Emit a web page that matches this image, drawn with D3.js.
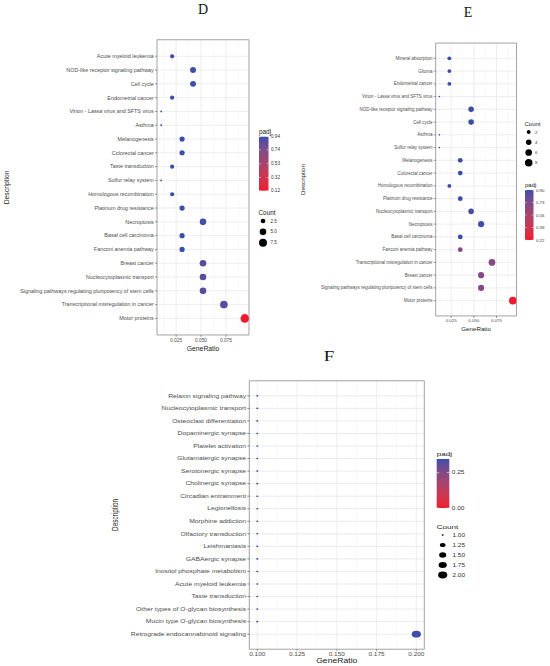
<!DOCTYPE html>
<html>
<head>
<meta charset="utf-8">
<script src="https://cdn.jsdelivr.net/npm/d3@7"></script>
<style>
  body { margin: 0; background: #fff; }
  svg { display: block; }
</style>
</head>
<body>
<div id="chart"></div>
<script>
// ---- panel D data ----
const dTerms = ['Acute myeloid leukemia', 'NOD-like receptor signaling pathway', 'Cell cycle', 'Endometrial cancer',
  'Virion - Lassa virus and SFTS virus', 'Asthma', 'Melanogenesis', 'Colorectal cancer', 'Taste transduction',
  'Sulfur relay system', 'Homologous recombination', 'Platinum drug resistance', 'Necroptosis', 'Basal cell carcinoma',
  'Fanconi anemia pathway', 'Breast cancer', 'Nucleocytoplasmic transport',
  'Signaling pathways regulating pluripotency of stem cells', 'Transcriptional misregulation in cancer', 'Motor proteins']
const dRatio = [0.021, 0.042, 0.042, 0.021, 0.010, 0.010, 0.031, 0.031, 0.021, 0.010, 0.021, 0.031, 0.052, 0.031, 0.031, 0.052, 0.052, 0.052, 0.073, 0.094]
const dCount = [2, 4, 4, 2, 1, 1, 3, 3, 2, 1, 2, 3, 5, 3, 3, 5, 5, 5, 7, 9]
const dPadj = [0.94, 0.93, 0.93, 0.94, 0.94, 0.94, 0.94, 0.94, 0.94, 0.94, 0.94, 0.94, 0.92, 0.94, 0.94, 0.87, 0.87, 0.87, 0.86, 0.12]
const dTicks = [0.025, 0.05, 0.075]
const dPadjKeys = [0.94, 0.74, 0.53, 0.32, 0.12]
const dCountKeys = [2.5, 5.0, 7.5]

// ---- panel E data ----
const eTerms = ['Mineral absorption', 'Glioma', 'Endometrial cancer', 'Virion - Lassa virus and SFTS virus',
  'NOD-like receptor signaling pathway', 'Cell cycle', 'Asthma', 'Sulfur relay system', 'Melanogenesis',
  'Colorectal cancer', 'Homologous recombination', 'Platinum drug resistance', 'Nucleocytoplasmic transport',
  'Necroptosis', 'Basal cell carcinoma', 'Fanconi anemia pathway', 'Transcriptional misregulation in cancer',
  'Breast cancer', 'Signaling pathways regulating pluripotency of stem cells', 'Motor proteins']
const eRatio = [0.023, 0.023, 0.023, 0.012, 0.047, 0.047, 0.012, 0.012, 0.035, 0.035, 0.023, 0.035, 0.047, 0.058, 0.035, 0.035, 0.070, 0.058, 0.058, 0.093]
const eCount = [2, 2, 2, 1, 4, 4, 1, 1, 3, 3, 2, 3, 4, 5, 3, 3, 6, 5, 5, 8]
const ePadj = [0.90, 0.90, 0.90, 0.90, 0.90, 0.90, 0.90, 0.90, 0.90, 0.90, 0.90, 0.90, 0.88, 0.89, 0.90, 0.70, 0.69, 0.70, 0.70, 0.22]
const eTicks = [0.025, 0.05, 0.075]
const ePadjKeys = [0.90, 0.73, 0.56, 0.39, 0.22]
const eCountKeys = [2, 4, 6, 8]

// ---- panel F data ----
const fTerms = ['Relaxin signaling pathway', 'Nucleocytoplasmic transport', 'Osteoclast differentiation',
  'Dopaminergic synapse', 'Platelet activation', 'Glutamatergic synapse', 'Serotonergic synapse',
  'Cholinergic synapse', 'Circadian entrainment', 'Legionellosis', 'Morphine addiction', 'Olfactory transduction',
  'Leishmaniasis', 'GABAergic synapse', 'Inositol phosphate metabolism', 'Acute myeloid leukemia',
  'Taste transduction', 'Other types of O-glycan biosynthesis', 'Mucin type O-glycan biosynthesis',
  'Retrograde endocannabinoid signaling']
const fRatio = [0.1, 0.1, 0.1, 0.1, 0.1, 0.1, 0.1, 0.1, 0.1, 0.1, 0.1, 0.1, 0.1, 0.1, 0.1, 0.1, 0.1, 0.1, 0.1, 0.2]
const fCount = [1, 1, 1, 1, 1, 1, 1, 1, 1, 1, 1, 1, 1, 1, 1, 1, 1, 1, 1, 2]
const fPadj = [0.34, 0.34, 0.34, 0.34, 0.34, 0.34, 0.34, 0.34, 0.34, 0.34, 0.34, 0.34, 0.34, 0.34, 0.34, 0.34, 0.34, 0.34, 0.34, 0.34]
const fTicks = [0.1, 0.125, 0.15, 0.175, 0.2]
const fPadjKeys = [0.25, 0.00]
const fPadjRange = [0.0, 0.347]
const fCountKeys = [1.00, 1.25, 1.50, 1.75, 2.00]

const width = 550, height = 666
const low = '#ef1a2e', high = '#3a4ea8'
const sans = '"Liberation Sans", Arial, sans-serif'
const serif = '"Liberation Serif", "Times New Roman", serif'

const svg = d3.select('#chart')
  .append('svg')
  .attr('width', width)
  .attr('height', height)

function dotPanel(o) {
  const sx = o.sx || 1
  const g = svg.append('g').attr('transform', `scale(${sx},1)`)
  const L = o.left / sx, R = o.right / sx

  // ggplot style 5% expansion on the continuous axis
  const ext = d3.extent(o.ratio)
  const pad = (ext[1] - ext[0]) * 0.05
  const x = d3.scaleLinear().domain([ext[0] - pad, ext[1] + pad]).range([L, R])
  const y = d3.scalePoint().domain(o.terms).range([o.top, o.bottom]).padding(0.6)

  const pDom = o.padjRange || d3.extent(o.padjKeys)
  const color = d3.scaleLinear().domain(pDom).range([low, high]).interpolate(d3.interpolateLab).clamp(true)

  const cExt = d3.extent(o.count)
  const rr = o.rRange
  const size = c => cExt[1] === cExt[0] ? rr[1]
    : rr[0] + (rr[1] - rr[0]) * Math.sqrt(Math.max(0, (c - cExt[0]) / (cExt[1] - cExt[0])))

  const yTop = o.top - y.step() * 0.6, yBot = o.bottom + y.step() * 0.6
  g.append('rect').attr('x', L).attr('y', yTop)
    .attr('width', R - L).attr('height', yBot - yTop)
    .attr('fill', '#fff')

  // grid
  const step = o.ticks[1] - o.ticks[0]
  const minor = [o.ticks[0] - step / 2].concat(o.ticks.map(t => t + step / 2))
    .filter(t => t > x.domain()[0] && t < x.domain()[1])
  g.append('g').selectAll('line').data(minor).enter().append('line')
    .attr('x1', d => x(d)).attr('x2', d => x(d)).attr('y1', yTop).attr('y2', yBot)
    .attr('stroke', '#f2f2f2').attr('stroke-width', 0.5 / sx)
  g.append('g').selectAll('line').data(o.ticks).enter().append('line')
    .attr('x1', d => x(d)).attr('x2', d => x(d)).attr('y1', yTop).attr('y2', yBot)
    .attr('stroke', '#e6e6e6').attr('stroke-width', 0.7 / sx)
  g.append('g').selectAll('line').data(o.terms).enter().append('line')
    .attr('x1', L).attr('x2', R).attr('y1', d => y(d)).attr('y2', d => y(d))
    .attr('stroke', '#e6e6e6').attr('stroke-width', 0.7)

  // dots
  g.append('g').selectAll('circle')
    .data(o.terms.map((t, i) => ({ t, r: o.ratio[i], c: o.count[i], p: o.padj[i] })))
    .enter()
    .append('circle')
    .attr('cx', d => x(d.r))
    .attr('cy', d => y(d.t))
    .attr('r', d => size(d.c))
    .attr('fill', d => color(d.p))

  // border
  g.append('rect').attr('x', L).attr('y', yTop).attr('width', R - L).attr('height', yBot - yTop)
    .attr('fill', 'none').attr('stroke', '#8c8c8c').attr('stroke-width', 0.8)
    .attr('vector-effect', 'non-scaling-stroke')

  // y axis
  const ya = g.append('g')
  ya.selectAll('line').data(o.terms).enter().append('line')
    .attr('x1', L - 2 / sx).attr('x2', L).attr('y1', d => y(d)).attr('y2', d => y(d))
    .attr('stroke', '#555').attr('stroke-width', 0.6)
  ya.selectAll('text').data(o.terms).enter().append('text')
    .attr('x', L - 3.2 / sx).attr('y', d => y(d)).attr('dy', '0.34em')
    .attr('text-anchor', 'end').attr('font-family', sans).attr('font-size', o.font)
    .attr('fill', '#4d4d4d').text(d => d)

  // x axis
  const xa = g.append('g')
  xa.selectAll('line').data(o.ticks).enter().append('line')
    .attr('x1', d => x(d)).attr('x2', d => x(d)).attr('y1', yBot).attr('y2', yBot + 2)
    .attr('stroke', '#555').attr('stroke-width', 0.6 / sx)
  xa.selectAll('text').data(o.ticks).enter().append('text')
    .attr('x', d => x(d)).attr('y', yBot + o.tickDy)
    .attr('text-anchor', 'middle').attr('font-family', sans).attr('font-size', o.tickFont)
    .attr('fill', '#4d4d4d').text(d3.format('.3f'))

  g.append('text').attr('x', (L + R) / 2).attr('y', o.xTitleY)
    .attr('text-anchor', 'middle').attr('font-family', sans).attr('font-size', o.axisFont)
    .attr('fill', '#222').text('GeneRatio')
  g.append('text')
    .attr('transform', `translate(${o.descX / sx},${(yTop + yBot) / 2}) rotate(-90)`)
    .attr('text-anchor', 'middle').attr('dy', '0.35em').attr('font-family', sans).attr('font-size', o.axisFont)
    .attr('fill', '#222').text('Description')

  g.append('text').attr('x', o.titleX / sx).attr('y', o.titleY)
    .attr('text-anchor', 'middle').attr('font-family', serif).attr('font-size', o.titleFont)
    .attr('fill', '#111').text(o.title)

  // padj colour bar legend
  const pl = o.padjLegend
  const gid = 'grad' + o.title
  const grad = svg.append('defs').append('linearGradient').attr('id', gid)
    .attr('x1', 0).attr('x2', 0).attr('y1', 1).attr('y2', 0)
  d3.range(0, 1.0001, 0.1).forEach(t => {
    grad.append('stop').attr('offset', t).attr('stop-color', color(pDom[0] + t * (pDom[1] - pDom[0])))
  })
  const bx = pl.x / sx, bw = pl.w / sx
  const by = d3.scaleLinear().domain(pDom).range([pl.y1, pl.y0])
  g.append('text').attr('x', bx).attr('y', pl.y0 - 3)
    .attr('font-family', sans).attr('font-size', o.legendTitleFont).attr('fill', '#222').text('padj')
  g.append('rect').attr('x', bx).attr('y', pl.y0).attr('width', bw).attr('height', pl.y1 - pl.y0)
    .attr('fill', `url(#${gid})`)
  g.append('g').selectAll('line').data(o.padjKeys).enter().append('line')
    .attr('x1', bx).attr('x2', bx + bw * 0.2).attr('y1', d => by(d)).attr('y2', d => by(d))
    .attr('stroke', '#fff').attr('stroke-width', 0.5)
  g.append('g').selectAll('line').data(o.padjKeys).enter().append('line')
    .attr('x1', bx + bw * 0.8).attr('x2', bx + bw).attr('y1', d => by(d)).attr('y2', d => by(d))
    .attr('stroke', '#fff').attr('stroke-width', 0.5)
  g.append('g').selectAll('text').data(o.padjKeys).enter().append('text')
    .attr('x', bx + bw + 2.5 / sx).attr('y', d => by(d)).attr('dy', '0.35em')
    .attr('font-family', sans).attr('font-size', o.legendFont).attr('fill', '#333')
    .text(d3.format('.2f'))

  // count size legend
  const cl = o.countLegend
  g.append('text').attr('x', cl.x / sx).attr('y', cl.y0 - 6)
    .attr('font-family', sans).attr('font-size', o.legendTitleFont).attr('fill', '#222').text('Count')
  const cy = d3.scalePoint().domain(o.countKeys).range([cl.y0, cl.y1])
  g.append('g').selectAll('circle').data(o.countKeys).enter().append('circle')
    .attr('cx', cl.dotX / sx).attr('cy', d => cy(d)).attr('r', d => size(d)).attr('fill', '#000')
  g.append('g').selectAll('text').data(o.countKeys).enter().append('text')
    .attr('x', cl.labelX / sx).attr('y', d => cy(d)).attr('dy', '0.35em')
    .attr('font-family', sans).attr('font-size', o.legendFont).attr('fill', '#333')
    .text(d => o.countFmt(d))
}

dotPanel({
  title: 'D', titleX: 203, titleY: 13.5, titleFont: 14,
  terms: dTerms, ratio: dRatio, count: dCount, padj: dPadj, ticks: dTicks,
  padjKeys: dPadjKeys, countKeys: dCountKeys, countFmt: d3.format('.1f'),
  left: 157, right: 249, top: 48, bottom: 326.7,
  rRange: [0.9, 4.3],
  font: 5.4, tickFont: 4.8, tickDy: 7, axisFont: 6.8,
  xTitleY: 350.5, descX: 7,
  legendTitleFont: 6.4, legendFont: 4.6,
  padjLegend: { x: 259, w: 9.5, y0: 136.7, y1: 190.7 },
  countLegend: { x: 258.5, dotX: 263, labelX: 270.5, y0: 221, y1: 242.7 }
})

dotPanel({
  title: 'E', titleX: 468, titleY: 17, titleFont: 14,
  terms: eTerms, ratio: eRatio, count: eCount, padj: ePadj, ticks: eTicks,
  padjKeys: ePadjKeys, countKeys: eCountKeys, countFmt: d3.format('d'),
  left: 435.7, right: 516.5, top: 50.7, bottom: 308.3,
  rRange: [0.8, 3.8],
  font: 4.5, tickFont: 4.4, tickDy: 6, axisFont: 6.2,
  xTitleY: 330.5, descX: 303,
  legendTitleFont: 6, legendFont: 4.3,
  padjLegend: { x: 525, w: 8.5, y0: 190, y1: 240 },
  countLegend: { x: 524.5, dotX: 528.7, labelX: 535, y0: 132, y1: 162.7 }
})

dotPanel({
  title: 'F', titleX: 329, titleY: 361, titleFont: 14, sx: 1.35,
  terms: fTerms, ratio: fRatio, count: fCount, padj: fPadj, ticks: fTicks,
  padjKeys: fPadjKeys, padjRange: fPadjRange, countKeys: fCountKeys, countFmt: d3.format('.2f'),
  left: 249.3, right: 424.3, top: 388.3, bottom: 641.7,
  rRange: [0.8, 3.4],
  font: 5, tickFont: 4.8, tickDy: 6.5, axisFont: 6.4,
  xTitleY: 663, descX: 115,
  legendTitleFont: 6, legendFont: 4.8,
  padjLegend: { x: 436.7, w: 12.6, y0: 459, y1: 508 },
  countLegend: { x: 436.7, dotX: 442.7, labelX: 452.5, y0: 535, y1: 575 }
})
</script>
</body>
</html>
